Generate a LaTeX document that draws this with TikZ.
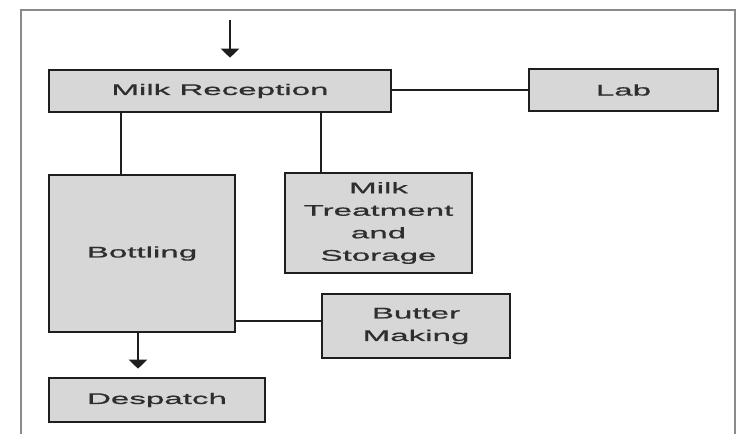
\documentclass[tikz,border=0pt]{standalone}
\usepackage{fontspec}
\setmainfont{Liberation Sans}[FakeStretch=2.15,FakeBold=0.8]
\usetikzlibrary{arrows.meta}
\definecolor{boxfill}{HTML}{D7D7D7}
\definecolor{boxline}{HTML}{1E1E1E}
\definecolor{txt}{HTML}{2E2E2E}
\definecolor{framecol}{HTML}{8A8A8A}
\tikzset{
  box/.style={draw=boxline, fill=boxfill, line width=2.6pt, align=center,
    text=txt, inner sep=0pt, font=\fontsize{15.4}{22.5}\selectfont},
  conn/.style={draw=boxline, line width=2.2pt},
  arr/.style={conn, -{Triangle[width=18pt,length=9pt]}}
}
\begin{document}
\begin{tikzpicture}[x=1pt,y=-1pt]
\useasboundingbox (0,0) rectangle (737,434);
\fill[white] (0,0) rectangle (737,434);
% frame
\draw[framecol, line width=1.6pt] (21,434) -- (21,10) -- (735,10) -- (735,434);
% boxes
\node[box, minimum width=342pt, minimum height=42pt] (mr) at (220,91) {Milk Reception};
\node[box, minimum width=189pt, minimum height=42pt] (lab) at (623.5,90) {Lab};
\node[box, minimum width=186pt, minimum height=157pt] (bot) at (142,253.5) {Bottling};
\node[box, minimum width=187pt, minimum height=100pt] (mt) at (378.5,223) {Milk\\Treatment\\and\\Storage};
\node[box, minimum width=188pt, minimum height=64pt] (bm) at (416,326) {Butter\\Making};
\node[box, minimum width=216pt, minimum height=44pt] (desp) at (157,400) {Despatch};
% helper coordinates
\coordinate (in) at (230,20);
\coordinate (xb) at (121,0);
\coordinate (xm) at (321,0);
\coordinate (yb) at (0,321);
\coordinate (xd) at (138,0);
% connectors
\draw[arr, shorten >=11pt] (in) -- (in |- mr.north);
\draw[conn] (mr.east |- lab.west) -- (lab.west);
\draw[conn] (mr.south -| xb) -- (bot.north -| xb);
\draw[conn] (mr.south -| xm) -- (mt.north -| xm);
\draw[conn] (bot.east |- yb) -- (bm.west |- yb);
\draw[arr, shorten >=8pt] (bot.south -| xd) -- (desp.north -| xd);
\end{tikzpicture}
\end{document}
